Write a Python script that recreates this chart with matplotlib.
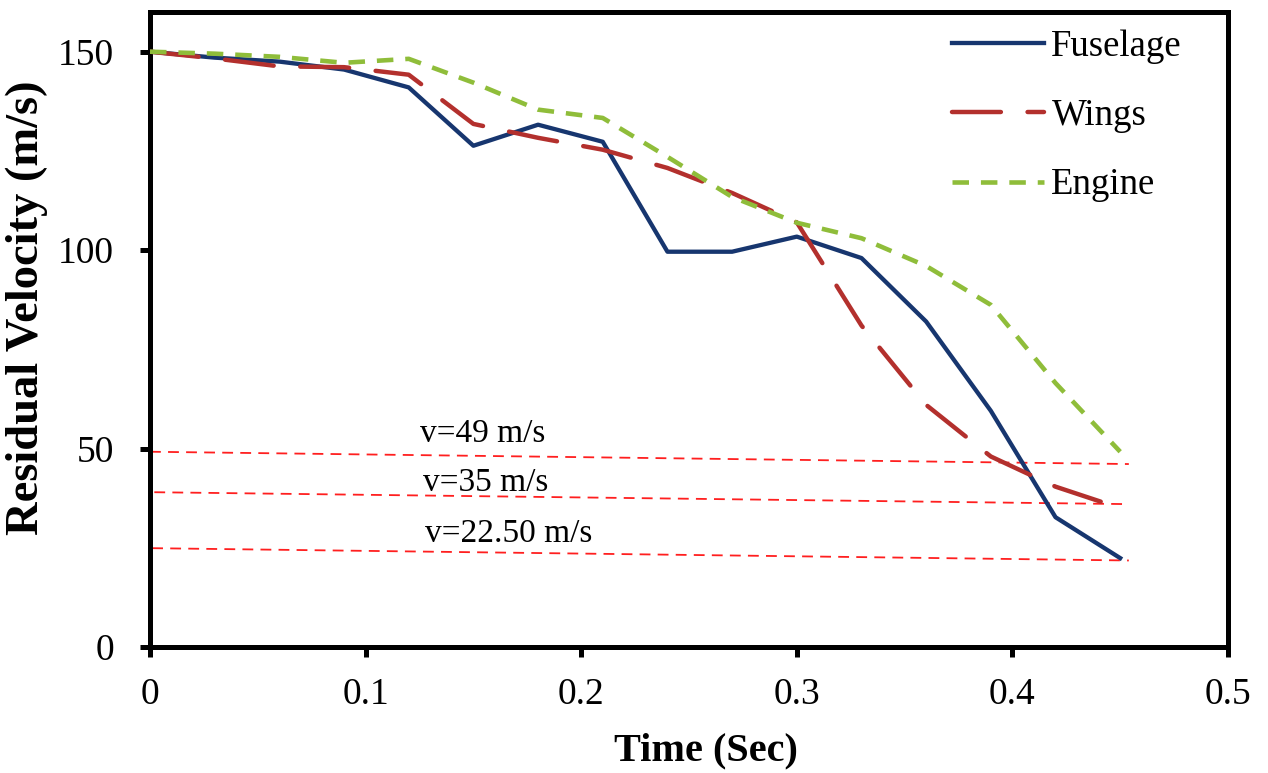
import matplotlib
matplotlib.use("Agg")
import matplotlib.pyplot as plt

# ---- data ----
time = [0.00, 0.03, 0.06, 0.09, 0.12, 0.15, 0.18, 0.21, 0.24, 0.27,
        0.30, 0.33, 0.36, 0.39, 0.42, 0.45]
fuselage = [150, 148.5, 147.5, 145.5, 141, 126.3, 131.6, 127.3, 99.6, 99.6,
            103.4, 98, 82, 59.5, 32.7, 22.4]
wings = [150, 148.3, 146.3, 146.1, 144.2, 131.8, 128.3, 125.3, 120.7, 114.4,
         107, 81, 61, 48, 40.4, 35]
engine = [150, 149.5, 148.7, 147.2, 148.2, 142.2, 135.4, 133.3, 123.5, 113.4,
          106.9, 103, 96, 86.2, 66.5, 49.2]
series_names = ["Fuselage", "Wings", "Engine"]

# threshold reference lines (slightly tilted as in the original)
ref_labels = ["v=49 m/s", "v=35 m/s", "v=22.50 m/s"]
ref_x_start = [0.0, 0.002, 0.001]
ref_x_end = [0.454, 0.454, 0.454]
ref_y_start = [49.2, 39.0, 24.9]
ref_y_end = [46.1, 36.0, 21.8]
ref_text_x = [0.1252, 0.1266, 0.1276]
ref_text_y = [51.6, 39.2, 26.4]

xticks = [0, 0.1, 0.2, 0.3, 0.4, 0.5]
xticklabels = ["0", "0.1", "0.2", "0.3", "0.4", "0.5"]
yticks = [0, 50, 100, 150]
yticklabels = ["0", "50", "100", "150"]

# ---- figure ----
plt.rcParams['font.family'] = ['Liberation Serif', 'DejaVu Serif']
fig = plt.figure(figsize=(12.68, 7.73), dpi=100)
ax = fig.add_axes([150/1268, 126/773, 1078/1268, 635/773])

for xs, xe, ys, ye in zip(ref_x_start, ref_x_end, ref_y_start, ref_y_end):
    ax.plot([xs, xe], [ys, ye], color="#ff1f1f", lw=1.3,
            dashes=(6, 4), zorder=1)
for tx, ty, lab in zip(ref_text_x, ref_text_y, ref_labels):
    ax.text(tx, ty, lab, fontsize=24, ha="left", va="baseline", zorder=5)

ax.plot(time, fuselage, color="#17366f", lw=3.1, label=series_names[0],
        solid_joinstyle="round", zorder=3)
ax.plot(time, wings, color="#b3302d", lw=3.2, label=series_names[1],
        dashes=(11, 6), dash_capstyle="round", zorder=3)
ax.plot(time, engine, color="#8fbd3a", lw=3.3, label=series_names[2],
        dashes=(3.6, 2.6), zorder=4)

ax.set_xlim(0, 0.5)
ax.set_ylim(0, 160)
ax.set_xticks(xticks)
ax.set_xticklabels(xticklabels)
ax.set_yticks(yticks)
ax.set_yticklabels(yticklabels)

for sp in ax.spines.values():
    sp.set_linewidth(3.6)
    sp.set_color("black")
ax.tick_params(axis="both", direction="out", length=7, width=3.6,
               labelsize=27, top=False, right=False)
ax.tick_params(axis="x", pad=15)
ax.tick_params(axis="y", pad=19)

ax.set_xlabel("Time (Sec)", fontsize=29, fontweight="bold")
ax.set_ylabel("Residual Velocity (m/s)", fontsize=33.5, fontweight="bold")
ax.xaxis.set_label_coords(0.516, -0.135)
ax.yaxis.set_label_coords(-0.0946, 0.534)

ax.legend(loc="upper left", bbox_to_anchor=(0.744, 0.972), frameon=False,
          fontsize=26.5, handlelength=2.5, handletextpad=0.2,
          labelspacing=0.94, borderaxespad=0, borderpad=0)

fig.savefig("out.png", dpi=100)
